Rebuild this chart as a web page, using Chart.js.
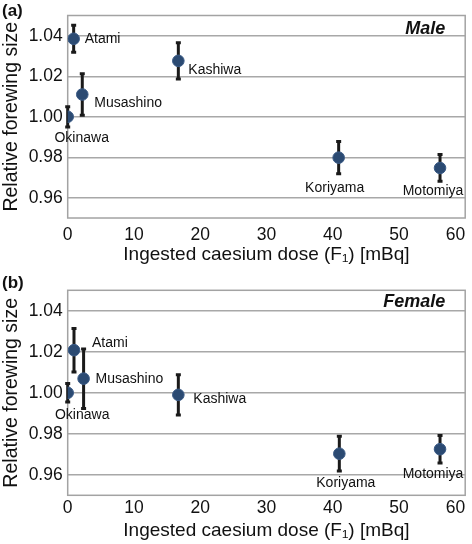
<!DOCTYPE html>
<html>
<head>
<meta charset="utf-8">
<script src="https://cdn.jsdelivr.net/npm/chart.js@4.4.1/dist/chart.umd.min.js"></script>
<style>
  body { margin: 0; background: #fff; }
  canvas { display: block; }
</style>
</head>
<body>
<canvas id="male" width="472" height="272"></canvas>
<canvas id="female" width="472" height="272"></canvas>
<script>
// values
const sites = ['Okinawa', 'Atami', 'Musashino', 'Kashiwa', 'Koriyama', 'Motomiya'];
const doseMale = [0, 0.9, 2.2, 16.7, 40.9, 56.2];
const sizeMale = [1.000, 1.0385, 1.011, 1.0276, 0.9798, 0.9747];
const errMale = [0.005, 0.0067, 0.0102, 0.009, 0.008, 0.0066];
const doseFemale = [0, 0.95, 2.4, 16.7, 41.0, 56.2];
const sizeFemale = [1.000, 1.0208, 1.0069, 0.999, 0.9703, 0.9725];
const errFemale = [0.0045, 0.0106, 0.0145, 0.0098, 0.0085, 0.0067];
const yTicks = [0.96, 0.98, 1.00, 1.02, 1.04];
const xTicks = [0, 10, 20, 30, 40, 50, 60];

// label offsets in px from each point [dx, dy, align]
const labelPosMale = [[14, 21, 'center'], [11, 0, 'left'], [12, 9, 'left'], [10, 9, 'left'], [-4, 30, 'center'], [-7, 23, 'center']];
const labelPosFemale = [[14.5, 22, 'center'], [18, -7, 'left'], [12, 0, 'left'], [15, 4, 'left'], [6.5, 29, 'center'], [-7, 25, 'center']];

const FONT = "'Liberation Sans', Arial, sans-serif";
Chart.defaults.font.family = FONT;
Chart.defaults.color = '#111';

const decor = {
  id: 'decor',
  beforeDatasetsDraw(chart, args, opts) {
    const ctx = chart.ctx;
    const a = chart.chartArea;
    const xs = chart.scales.x, ys = chart.scales.y;
    ctx.save();
    ctx.strokeStyle = '#a3a3a3';
    ctx.lineWidth = 1.5;
    ctx.strokeRect(a.left, a.top, a.right - a.left, a.bottom - a.top);
    // error bars
    ctx.strokeStyle = '#1a1a1a';
    ctx.lineWidth = 3;
    opts.dose.forEach((d, i) => {
      const px = xs.getPixelForValue(d);
      const y1 = ys.getPixelForValue(opts.size[i] + opts.err[i]);
      const y2 = ys.getPixelForValue(opts.size[i] - opts.err[i]);
      ctx.beginPath();
      ctx.moveTo(px, y1); ctx.lineTo(px, y2);
      ctx.moveTo(px - 2.5, y1); ctx.lineTo(px + 2.5, y1);
      ctx.moveTo(px - 2.5, y2); ctx.lineTo(px + 2.5, y2);
      ctx.stroke();
    });
    ctx.restore();
  },
  afterDatasetsDraw(chart, args, opts) {
    const ctx = chart.ctx;
    const a = chart.chartArea;
    const xs = chart.scales.x, ys = chart.scales.y;
    ctx.save();
    ctx.fillStyle = '#111';
    ctx.font = '14px ' + FONT;
    ctx.textBaseline = 'middle';
    sites.forEach((s, i) => {
      const p = opts.labelPos[i];
      ctx.textAlign = p[2];
      ctx.fillText(s, xs.getPixelForValue(opts.dose[i]) + p[0], ys.getPixelForValue(opts.size[i]) + p[1]);
    });
    ctx.textBaseline = 'alphabetic';
    ctx.textAlign = 'right';
    ctx.font = 'italic bold 18px ' + FONT;
    ctx.fillText(opts.tag, a.right - 20, a.top + opts.tagDy);
    ctx.textAlign = 'left';
    ctx.font = 'bold 17px ' + FONT;
    ctx.fillText(opts.panel, 2, 16);
    ctx.restore();
  }
};

function makeChart(id, dose, size, err, labelPos, tag, panel, layout) {
  const pts = dose.map((d, i) => ({ x: d, y: size[i] }));
  return new Chart(document.getElementById(id), {
    type: 'scatter',
    data: {
      datasets: [{
        data: pts,
        pointRadius: 5.8,
        pointHoverRadius: 5.8,
        backgroundColor: '#2b4a72',
        borderColor: '#3b5b86',
        borderWidth: 1
      }]
    },
    options: {
      responsive: false,
      animation: false,
      events: [],
      layout: { padding: { left: 0, right: 5.3, top: layout.top, bottom: 0 } },
      plugins: {
        legend: { display: false },
        tooltip: { enabled: false },
        decor: { dose, size, err, labelPos, tag, panel, tagDy: layout.tagDy }
      },
      scales: {
        x: {
          type: 'linear',
          min: 0, max: 60,
          afterBuildTicks: s => { s.ticks = xTicks.map(v => ({ value: v })); },
          afterFit: s => { s.height = layout.xh; s.paddingLeft = 0; s.paddingRight = 0; },
          ticks: {
            font: { size: 17.5 }, color: '#111', padding: layout.xtp, maxRotation: 0,
            // last label sits left of the edge, as in the figure
            callback: v => v === 60 ? '60\u00a0\u00a0\u00a0\u00a0' : String(v)
          },
          grid: { display: false },
          border: { display: false },
          title: { display: true, text: 'Ingested caesium dose (F₁) [mBq]', font: { size: 19 }, color: '#111', padding: { top: 0, bottom: layout.xtb } }
        },
        y: {
          min: 0.95, max: 1.05,
          afterBuildTicks: s => { s.ticks = yTicks.map(v => ({ value: v })); },
          afterFit: s => { s.width = 67.7; },
          ticks: { font: { size: 17.5 }, color: '#111', padding: 5, callback: v => v.toFixed(2) },
          grid: { color: '#a8a8a8', lineWidth: 1.5, drawTicks: false },
          border: { display: false },
          title: { display: true, text: 'Relative forewing size', font: { size: 19.5 }, color: '#111', padding: 0 }
        }
      }
    },
    plugins: [decor]
  });
}

makeChart('male', doseMale, sizeMale, errMale, labelPosMale, 'Male', '(a)',
  { top: 14, xh: 54, xtp: -1.5, xtb: 6, tagDy: 18 });
makeChart('female', doseFemale, sizeFemale, errFemale, labelPosFemale, 'Female', '(b)',
  { top: 18.3, xh: 48.7, xtp: -6, xtb: 2, tagDy: 17 });
</script>
</body>
</html>
